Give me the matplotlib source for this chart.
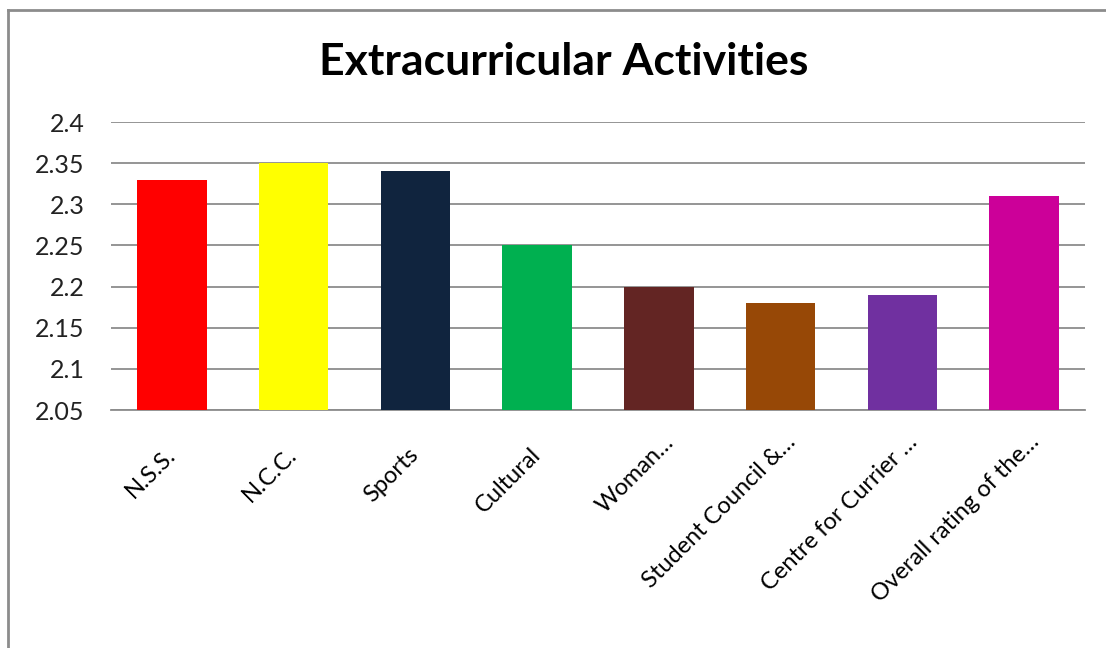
import matplotlib
matplotlib.use('Agg')
import matplotlib.pyplot as plt
from matplotlib.lines import Line2D
from matplotlib.transforms import ScaledTranslation

categories = ['N.S.S.', 'N.C.C.', 'Sports', 'Cultural', 'Woman…',
              'Student Council &…', 'Centre for Currier …', 'Overall rating of the…']
values = [2.33, 2.35, 2.34, 2.25, 2.20, 2.18, 2.19, 2.31]
colors = ['#FF0000', '#FFFF00', '#10243E', '#00B050',
          '#632523', '#974806', '#7030A0', '#CC0099']
yticks = [2.05, 2.1, 2.15, 2.2, 2.25, 2.3, 2.35, 2.4]
ytick_labels = ['2.05', '2.1', '2.15', '2.2', '2.25', '2.3', '2.35', '2.4']

plt.rcParams['font.family'] = ['Lato', 'DejaVu Sans']

fig = plt.figure(figsize=(11.06, 6.48), dpi=100)
ax = fig.add_axes([111 / 1106, 1 - 410 / 648, (1085 - 111) / 1106, (410 - 122) / 648])

x = range(len(categories))
ax.bar(x, values, width=0.57, color=colors, zorder=3, bottom=0)
ax.set_ylim(2.05, 2.4)
ax.set_xlim(-0.5, len(categories) - 0.5)

ax.set_yticks(yticks)
ax.set_yticklabels(ytick_labels)
ax.yaxis.grid(True, color='#8c8c8c', linewidth=1.3, zorder=0)
ax.set_axisbelow(True)

ax.set_xticks(list(x))
ax.set_xticklabels(categories, rotation=45, ha='right', va='center',
                   rotation_mode='anchor')
ax.tick_params(axis='x', length=0, pad=30, labelsize=17, colors='black')
ax.tick_params(axis='y', length=0, pad=19, labelsize=18, colors='#222222')

# truncated labels sit a little further along the diagonal
for lab in ax.get_xticklabels():
    if lab.get_text().endswith('…'):
        lab.set_transform(lab.get_transform() +
                          ScaledTranslation(0.12, 0.13, fig.dpi_scale_trans))

for s in ['top', 'right', 'left']:
    ax.spines[s].set_visible(False)
ax.spines['bottom'].set_color('#8c8c8c')
ax.spines['bottom'].set_linewidth(1.3)

fig.text(564 / 1106, 1 - 62 / 648, 'Extracurricular Activities', ha='center', va='center',
         fontsize=32, fontweight='bold')

# outer chart frame (left and top edges visible)
fx, fy = 8 / 1106, 1 - 10 / 648
fig.add_artist(Line2D([fx, fx], [0, fy], color='#8c8c8c', linewidth=2, transform=fig.transFigure))
fig.add_artist(Line2D([fx, 1], [fy, fy], color='#8c8c8c', linewidth=2, transform=fig.transFigure))

fig.savefig('out.png', dpi=100)
